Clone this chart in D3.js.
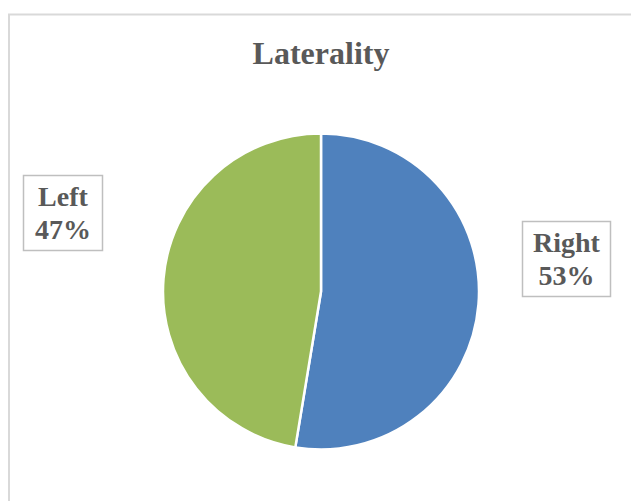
<!DOCTYPE html>
<html>
<head>
<meta charset="utf-8">
<script src="https://cdn.jsdelivr.net/npm/d3@7"></script>
<style>
  html, body { margin: 0; padding: 0; background: #fff; }
  svg { display: block; }
</style>
</head>
<body>
<div id="chart"></div>
<script>
// ---- data ----
const categories = ["Right", "Left"];
const values = [52.6, 47.4];
const colors = ["#4F81BD", "#9BBB59"];
const title = "Laterality";

// ---- layout ----
const W = 631, H = 501;
const cx = 321, cy = 291.5, R = 158;
const labelBoxes = {
  Right: { x: 522, y: 221, w: 88, h: 75 },
  Left:  { x: 23,  y: 175, w: 79, h: 75 }
};
const font = "'Liberation Serif', 'Times New Roman', serif";
const textColor = "#595959";

const svg = d3.select("#chart").append("svg")
  .attr("width", W).attr("height", H);

svg.append("rect").attr("width", W).attr("height", H).attr("fill", "#fff");

// chart area border (extends past right/bottom edges)
svg.append("rect")
  .attr("x", 9).attr("y", 14.5)
  .attr("width", W + 20).attr("height", H + 20)
  .attr("fill", "none").attr("stroke", "#d9d9d9").attr("stroke-width", 2);

svg.append("text")
  .attr("x", cx).attr("y", 64)
  .attr("text-anchor", "middle")
  .attr("font-family", font).attr("font-weight", "bold")
  .attr("font-size", 32).attr("fill", textColor)
  .text(title);

const data = categories.map((c, i) => ({ cat: c, value: values[i], color: colors[i] }));
const pie = d3.pie().sort(null).value(d => d.value);
const arc = d3.arc().innerRadius(0).outerRadius(R);
const total = d3.sum(values);

const g = svg.append("g").attr("transform", `translate(${cx},${cy})`);
g.selectAll("path").data(pie(data)).join("path")
  .attr("d", arc)
  .attr("fill", d => d.data.color)
  .attr("stroke", "#fff").attr("stroke-width", 2.5)
  .attr("stroke-linejoin", "round");

// data labels
const lab = svg.selectAll("g.lab").data(data).join("g").attr("class", "lab");
lab.append("rect")
  .attr("x", d => labelBoxes[d.cat].x + 0.5)
  .attr("y", d => labelBoxes[d.cat].y + 0.5)
  .attr("width", d => labelBoxes[d.cat].w)
  .attr("height", d => labelBoxes[d.cat].h)
  .attr("fill", "#fff").attr("stroke", "#bfbfbf").attr("stroke-width", 1.5);
const t = lab.append("text")
  .attr("text-anchor", "middle")
  .attr("font-family", font).attr("font-weight", "bold")
  .attr("font-size", 28).attr("fill", textColor);
t.append("tspan")
  .attr("x", d => labelBoxes[d.cat].x + labelBoxes[d.cat].w / 2 + 0.5)
  .attr("y", d => labelBoxes[d.cat].y + labelBoxes[d.cat].h / 2 - 6.5)
  .text(d => d.cat);
t.append("tspan")
  .attr("x", d => labelBoxes[d.cat].x + labelBoxes[d.cat].w / 2 + 0.5)
  .attr("y", d => labelBoxes[d.cat].y + labelBoxes[d.cat].h / 2 + 26)
  .text(d => Math.round(d.value / total * 100) + "%");
</script>
</body>
</html>
